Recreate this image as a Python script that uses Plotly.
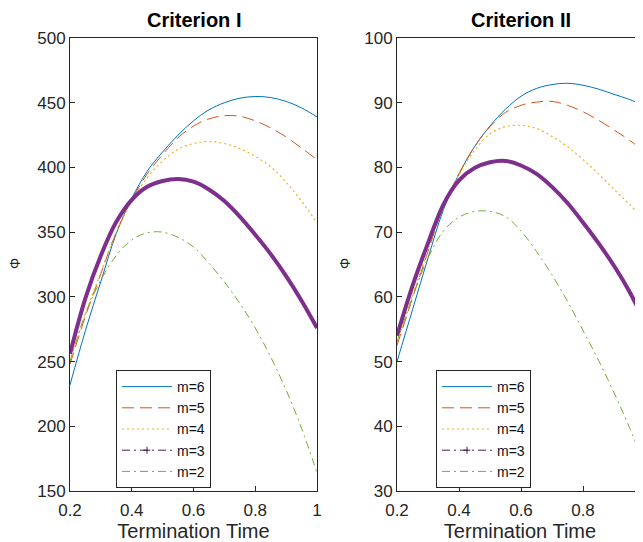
import plotly.graph_objects as go

# ---------------- data ----------------
t = [0.2, 0.25, 0.3, 0.35, 0.4, 0.45, 0.5, 0.55, 0.6, 0.65, 0.7, 0.75, 0.8, 0.85, 0.9, 0.95, 1.0]

# Criterion I
c1_m6 = [232, 274, 312, 349, 376, 397, 412, 425, 436, 444.5, 450, 453.5, 454.8, 454, 451, 446, 439]
c1_m5 = [248, 285, 318, 350, 375, 395, 410, 423, 432, 437.5, 440, 439.5, 436, 430.5, 423.5, 415, 406]
c1_m4 = [250, 287, 319, 350, 374, 392, 405, 414, 418.5, 420, 418.5, 414.5, 408.5, 400.5, 388.5, 374, 357]
c1_m3 = [256, 299, 332, 358, 375, 385, 389.5, 391, 389, 383, 374, 362, 348, 333, 316, 297, 276]
c1_m2 = [250, 287, 313, 332, 344, 349.5, 350, 346, 338.5, 326, 311.5, 295, 276, 253.5, 228, 198.5, 164]

# Criterion II
c2_m6 = [50, 58, 66, 73.5, 79.0, 83.2, 86.4, 89.0, 91.0, 92.2, 92.8, 93.0, 92.7, 92.1, 91.3, 90.5, 89.5]
c2_m5 = [52.5, 59.8, 67, 74, 79.0, 83.2, 86.3, 88.5, 89.6, 90.1, 90.2, 89.6, 88.6, 87.3, 85.8, 84.2, 82.4]
c2_m4 = [53, 60.2, 67.3, 74, 78.9, 82.6, 85.2, 86.3, 86.5, 86.0, 84.8, 83.2, 81.2, 79.0, 76.6, 74.3, 71.8]
c2_m3 = [54, 61.7, 68.3, 74.3, 78.0, 79.9, 80.8, 81.0, 80.3, 79.0, 77.0, 74.5, 71.5, 68.3, 64.8, 60.8, 56]
c2_m2 = [53, 60, 66, 70.2, 72.3, 73.2, 73.2, 72.4, 70.2, 67.0, 63.4, 59.3, 54.8, 50.2, 45.2, 39.8, 34]

labels = ["m=6", "m=5", "m=4", "m=3", "m=2"]
xticks = [0.2, 0.4, 0.6, 0.8, 1.0]
xticklabels = ["0.2", "0.4", "0.6", "0.8", "1"]
y1ticks = [150, 200, 250, 300, 350, 400, 450, 500]
y2ticks = [30, 40, 50, 60, 70, 80, 90, 100]

# ---------------- styles ----------------
colors = ["#0072BD", "#D95319", "#EDB120", "#7E2F8E", "#77AC30"]
dashes = ["solid", "12px,6px", "2px,3px", "8px,4px,2px,4px", "8px,4px,2px,4px"]
widths = [1, 1, 1.2, 1, 1]
FONT = "Liberation Sans, Arial, Helvetica, sans-serif"
AX = "#262626"

OFF = 8                    # page body margin in the browser
SW, SH = 643, 542          # screen size
W, H = SW - OFF, SH - OFF  # figure size
# plot area in screen pixels
SL, SR, ST, SB = 70, 643, 38, 491
L, T = SL - OFF, ST - OFF
R = W - (SR - OFF)
B = H - (SB - OFF)
pw = W - L - R
ph = H - T - B

def px2x(px):
    return (px - SL) / pw

def py2y(py):
    return (SB - py) / ph

fig = go.Figure()

series1 = [c1_m6, c1_m5, c1_m4, c1_m3, c1_m2]
series2 = [c2_m6, c2_m5, c2_m4, c2_m3, c2_m2]

for (series, xa, ya, leg) in [(series1, "x", "y", "legend"), (series2, "x2", "y2", "legend2")]:
    for i, ys in enumerate(series):
        if i == 3:
            fig.add_trace(go.Scatter(x=t, y=ys, xaxis=xa, yaxis=ya, mode="lines",
                                     line=dict(color=colors[i], width=4, shape="spline"),
                                     showlegend=False, hoverinfo="skip"))
            fig.add_trace(go.Scatter(x=[None], y=[None], xaxis=xa, yaxis=ya, mode="lines+markers",
                                     line=dict(color="#4a1c55", width=1, dash=dashes[i]),
                                     marker=dict(symbol="cross-thin", size=5,
                                                 line=dict(color="#4a1c55", width=1)),
                                     name=labels[i], legend=leg))
        else:
            fig.add_trace(go.Scatter(x=t, y=ys, xaxis=xa, yaxis=ya, mode="lines",
                                     line=dict(color=colors[i], width=widths[i], dash=dashes[i],
                                               shape="spline"),
                                     name=labels[i], legend=leg))

axis_common = dict(showline=True, linecolor=AX, linewidth=1, mirror=True,
                   ticks="inside", ticklen=5, tickcolor=AX, showgrid=False, zeroline=False,
                   tickfont=dict(family=FONT, size=17, color=AX))
xaxis_common = dict(tickvals=xticks, ticktext=xticklabels, ticklabelstandoff=4,
                    title=dict(text="Termination Time", font=dict(family=FONT, size=20, color=AX),
                               standoff=2))

x1_dom = [0, px2x(317)]
x2_dom = [px2x(397), 1.0]
x2_max = 0.2 + (643 - 397) / 310.0

legend_common = dict(xanchor="left", yanchor="top", bgcolor="white", bordercolor=AX,
                     borderwidth=1, font=dict(family=FONT, size=14, color="#111111"),
                     itemwidth=50, tracegroupgap=0)

fig.update_layout(
    width=W, height=H,
    margin=dict(l=L, r=R, t=T, b=B, autoexpand=False),
    paper_bgcolor="white", plot_bgcolor="white",
    font=dict(family=FONT, color=AX),
    xaxis=dict(domain=x1_dom, range=[0.2, 1.0], anchor="y", **xaxis_common, **axis_common),
    yaxis=dict(domain=[0, 1], range=[150, 500], tickvals=y1ticks, anchor="x", **axis_common),
    xaxis2=dict(domain=x2_dom, range=[0.2, x2_max], anchor="y2", **xaxis_common, **axis_common),
    yaxis2=dict(domain=[0, 1], range=[30, 100], tickvals=y2ticks, anchor="x2", **axis_common),
    legend=dict(x=px2x(116), y=py2y(370), **legend_common),
    legend2=dict(x=px2x(436), y=py2y(370), **legend_common),
    annotations=[
        dict(text="<b>Criterion I</b>", x=px2x(193.5), y=py2y(20), xref="paper", yref="paper",
             xanchor="center", yanchor="middle", showarrow=False,
             font=dict(family=FONT, size=20, color="black")),
        dict(text="<b>Criterion II</b>", x=px2x(521), y=py2y(20), xref="paper", yref="paper",
             xanchor="center", yanchor="middle", showarrow=False,
             font=dict(family=FONT, size=20, color="black")),
        dict(text="Φ", x=px2x(15), y=py2y(264), xref="paper", yref="paper", textangle=-90,
             xanchor="center", yanchor="middle", showarrow=False,
             font=dict(family=FONT, size=14, color=AX)),
        dict(text="Φ", x=px2x(345), y=py2y(264), xref="paper", yref="paper", textangle=-90,
             xanchor="center", yanchor="middle", showarrow=False,
             font=dict(family=FONT, size=14, color=AX)),
    ],
)

fig.write_html("out.html")
